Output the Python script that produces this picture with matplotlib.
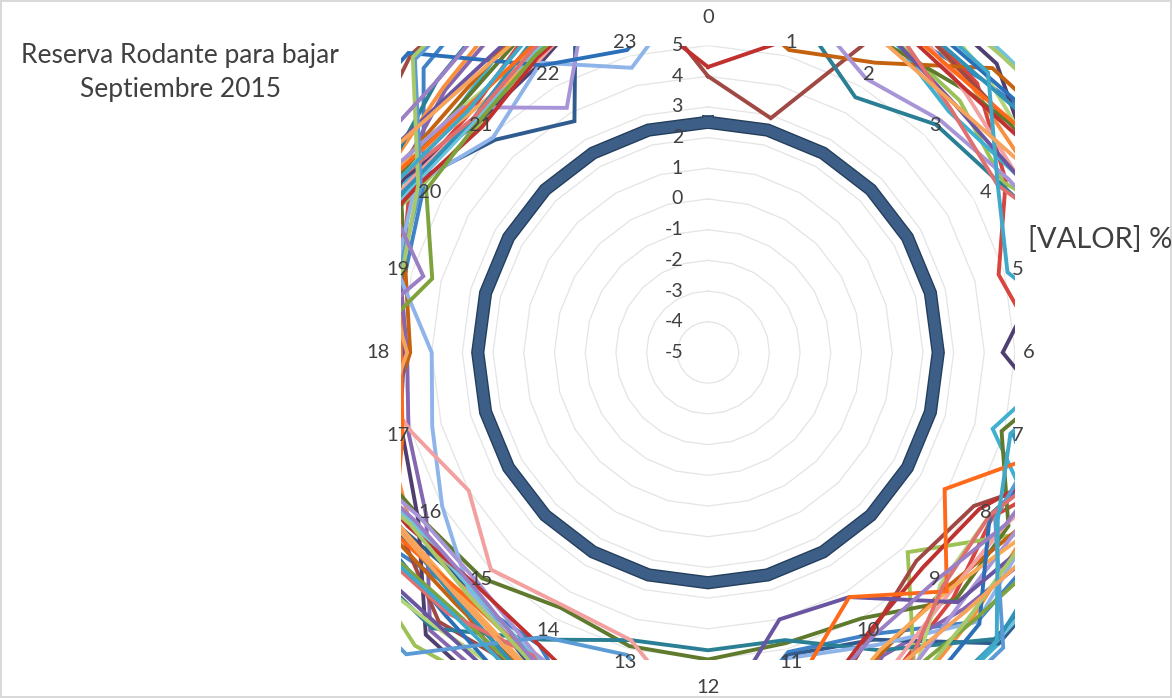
import numpy as np
import matplotlib.pyplot as plt
import matplotlib.patheffects as pe
from matplotlib.patches import Rectangle

# horas del dia (categorias del radar)
horas = list(range(24))
niveles = [-4, -3, -2, -1, 0, 1, 2, 3, 4, 5]
escala = [-5, -4, -3, -2, -1, 0, 1, 2, 3, 4, 5]
umbral = [2.5] * 24

# reserva rodante por dia (%) (lo que pasa de 5 queda fuera del recuadro)
dia_01 = [7.5, 9.0, 7.2, 7.6, 8.6, 9.4, 8.5, 9.0, 7.6, 7.4, 5.6, 5.1, 8.0, 8.4, 6.0, 6.2, 7.3, 7.5, 8.2, 5.2, 5.7, 8.1, 8.9, 9.8]
dia_02 = [7.0, 9.0, 7.9, 7.4, 6.2, 4.8, 5.9, 8.2, 5.7, 6.3, 7.1, 7.9, 8.5, 8.3, 7.5, 6.5, 6.6, 5.6, 5.0, 5.3, 6.2, 6.0, 6.9, 7.9]
dia_03 = [8.0, 8.3, 6.9, 6.6, 6.1, 8.6, 8.0, 8.0, 6.8, 4.2, 8.6, 8.5, 9.0, 9.5, 8.0, 8.5, 8.2, 10.0, 8.0, 7.1, 5.8, 5.5, 6.2, 6.9]
dia_04 = [6.9, 11.0, 10.5, 10.2, 10.6, 11.0, 8.5, 8.2, 7.6, 6.8, 6.4, 8.6, 8.8, 9.6, 8.0, 7.8, 5.6, 5.1, 4.8, 5.4, 6.6, 7.1, 7.8, 8.8]
dia_05 = [7.4, 7.9, 6.9, 6.1, 6.6, 8.0, 7.0, 4.6, 7.8, 8.4, 8.8, 10.1, 8.0, 11.0, 10.3, 9.8, 10.2, 11.0, 8.5, 8.2, 6.3, 6.4, 7.3, 8.0]
dia_06 = [6.7, 8.2, 7.9, 7.2, 7.0, 9.0, 8.0, 8.5, 6.9, 7.2, 8.0, 8.7, 8.5, 7.7, 6.6, 6.0, 6.2, 5.8, 4.9, 5.6, 7.0, 7.2, 8.0, 9.2]
dia_07 = [7.3, 11.0, 10.3, 9.9, 10.1, 11.0, 8.5, 10.1, 8.6, 8.4, 5.8, 5.2, 8.3, 7.6, 6.7, 5.9, 6.5, 7.6, 7.8, 7.2, 6.1, 4.8, 3.7, 11.5]
dia_08 = [4.0, 2.9, 7.8, 7.3, 7.6, 9.0, 8.2, 8.5, 5.0, 4.6, 5.6, 7.8, 8.4, 8.2, 7.0, 7.4, 6.6, 8.1, 8.0, 9.4, 8.0, 8.7, 9.0, 9.0]
dia_09 = [7.1, 8.8, 6.6, 7.0, 7.9, 8.5, 7.6, 4.9, 6.3, 6.4, 5.0, 4.8, 5.0, 4.9, 4.6, 5.4, 5.8, 6.8, 7.5, 5.2, 6.6, 6.4, 7.0, 8.2]
dia_10 = [7.5, 9.9, 8.6, 8.3, 7.2, 6.5, 4.6, 7.7, 9.6, 9.8, 10.0, 10.5, 8.8, 9.8, 8.3, 8.0, 5.9, 5.3, 8.0, 7.6, 6.4, 5.6, 5.9, 7.4]
dia_11 = [7.0, 6.4, 4.6, 5.5, 6.0, 7.4, 8.0, 9.7, 8.5, 8.2, 6.2, 4.7, 4.7, 4.7, 5.8, 7.7, 8.2, 9.2, 8.0, 8.6, 7.0, 7.5, 8.3, 9.2]
dia_12 = [7.2, 5.2, 5.9, 8.1, 8.7, 9.8, 8.0, 7.6, 6.6, 5.9, 6.3, 7.8, 8.2, 8.2, 7.0, 6.6, 6.9, 6.0, 4.7, 5.2, 6.8, 6.6, 7.2, 8.4]
dia_13 = [7.6, 10.5, 10.2, 10.1, 10.3, 10.8, 8.8, 9.0, 7.0, 7.4, 6.0, 5.3, 8.5, 7.6, 6.6, 6.0, 5.0, 4.3, 4.0, 5.5, 6.0, 4.9, 5.9, 4.6]
dia_14 = [7.0, 8.6, 7.8, 6.9, 6.6, 8.8, 8.0, 7.8, 6.2, 6.1, 6.9, 7.6, 7.5, 4.7, 4.5, 5.0, 4.0, 5.0, 6.5, 7.3, 6.2, 5.8, 6.0, 7.4]
dia_15 = [7.3, 9.3, 8.6, 7.8, 7.4, 9.6, 8.1, 7.0, 5.6, 5.7, 8.0, 7.5, 8.4, 9.3, 7.4, 7.6, 8.5, 9.0, 7.8, 7.8, 6.9, 6.3, 6.4, 8.0]
dia_16 = [7.4, 6.8, 5.3, 5.7, 6.3, 7.4, 8.5, 8.4, 6.6, 6.6, 7.5, 8.3, 8.0, 7.2, 6.3, 5.6, 5.8, 7.3, 8.0, 8.4, 6.9, 6.3, 4.2, 9.0]
dia_17 = [7.1, 10.3, 9.0, 8.7, 9.2, 10.4, 8.2, 9.9, 8.6, 8.3, 8.8, 10.0, 8.2, 7.5, 6.4, 5.9, 6.1, 7.6, 7.4, 7.0, 6.0, 5.7, 6.3, 7.3]
dia_18 = [7.0, 11.0, 10.0, 9.9, 10.4, 11.0, 8.5, 7.5, 6.9, 6.0, 6.2, 7.9, 8.0, 8.0, 6.8, 6.3, 6.5, 8.0, 7.0, 7.7, 6.8, 6.0, 6.1, 7.8]
dia_19 = [7.6, 9.6, 8.0, 7.8, 8.5, 9.4, 8.0, 7.0, 5.6, 7.5, 8.3, 9.8, 8.3, 8.8, 7.7, 7.1, 7.2, 8.9, 7.6, 10.4, 9.1, 8.8, 5.8, 5.2]
dia_20 = [4.3, 5.6, 7.3, 7.0, 7.6, 8.8, 8.0, 7.6, 5.2, 4.9, 5.5, 7.3, 8.0, 7.2, 6.0, 5.7, 6.3, 7.3, 7.5, 7.0, 5.9, 5.4, 6.1, 7.2]
dia_21 = [7.0, 11.0, 10.1, 10.0, 10.5, 11.0, 8.5, 8.9, 7.9, 7.3, 7.4, 8.9, 8.0, 8.6, 7.1, 6.8, 7.4, 8.4, 6.4, 4.3, 5.6, 5.6, 6.2, 7.2]
dia_22 = [7.2, 8.2, 6.9, 6.4, 6.6, 8.1, 8.2, 8.3, 7.2, 6.5, 4.2, 4.0, 7.5, 9.2, 7.8, 7.5, 8.1, 5.4, 4.9, 5.9, 7.4, 6.9, 7.2, 8.7]
dia_23 = [7.4, 9.2, 7.8, 7.6, 8.3, 9.3, 8.0, 5.3, 8.0, 8.3, 8.7, 10.0, 8.5, 8.0, 7.1, 6.5, 6.6, 8.2, 7.7, 7.4, 6.1, 5.8, 6.6, 7.6]
dia_24 = [7.1, 9.0, 7.4, 7.2, 7.9, 9.1, 8.0, 6.9, 3.9, 6.0, 4.2, 6.2, 8.0, 7.9, 6.5, 6.2, 6.8, 5.3, 5.0, 5.5, 6.7, 6.2, 6.5, 7.8]
dia_25 = [7.5, 11.0, 10.2, 9.8, 10.1, 11.0, 8.6, 6.2, 5.8, 8.6, 9.0, 10.2, 8.6, 5.2, 5.7, 8.9, 9.4, 10.6, 8.0, 5.4, 5.8, 8.5, 9.0, 10.1]
dia_26 = [7.2, 7.9, 7.2, 6.2, 5.9, 7.8, 7.5, 7.3, 5.6, 5.8, 7.5, 7.2, 7.8, 8.8, 6.4, 7.0, 7.6, 8.7, 7.6, 7.3, 6.5, 5.8, 6.4, 7.6]
dia_27 = [7.0, 10.3, 8.8, 8.6, 9.2, 10.1, 8.1, 8.6, 7.0, 7.1, 7.9, 8.4, 8.0, 7.6, 6.6, 6.1, 6.2, 7.8, 7.6, 5.3, 5.9, 8.6, 9.1, 10.0]
dia_28 = [7.3, 11.0, 10.3, 10.3, 10.5, 11.0, 8.3, 7.0, 6.2, 5.5, 5.7, 7.2, 8.2, 7.3, 6.5, 5.8, 6.0, 7.4, 7.2, 4.6, 7.8, 7.5, 8.2, 9.3]
dia_29 = [7.2, 9.6, 8.2, 7.9, 5.9, 5.1, 8.0, 5.2, 5.9, 8.3, 8.9, 10.1, 8.4, 8.5, 7.3, 6.9, 7.5, 8.6, 7.4, 7.6, 6.5, 6.1, 6.8, 7.7]
dia_30 = [7.1, 8.1, 6.6, 6.4, 7.0, 8.1, 7.8, 8.4, 7.5, 6.9, 7.0, 8.6, 8.3, 8.0, 6.9, 6.4, 6.6, 6.2, 4.8, 6.0, 7.4, 6.8, 7.0, 8.5]

dias = [dia_01, dia_02, dia_03, dia_04, dia_05, dia_06, dia_07, dia_08, dia_09, dia_10,
        dia_11, dia_12, dia_13, dia_14, dia_15, dia_16, dia_17, dia_18, dia_19, dia_20,
        dia_21, dia_22, dia_23, dia_24, dia_25, dia_26, dia_27, dia_28, dia_29, dia_30]

colores = ['#3f82c8', '#d8443e', '#9cc255', '#8566b0', '#3fb0d0', '#f7913f',
           '#2f5b8e', '#a04844', '#5f7a2c', '#4f3f70', '#2a7f95', '#c4620f',
           '#8fb4ea', '#f2a0a0', '#b5d57a', '#a895d8', '#6fc3dc', '#f9a858',
           '#2a6fb8', '#c0302e', '#7ea33c', '#6a55a0', '#2f93b8', '#ff6a1a',
           '#5b9bd5', '#e07070', '#a8c96a', '#9a7fc4', '#40a8c8', '#f7a35c']

plt.rcParams['font.family'] = ['Lato', 'DejaVu Sans']

fig = plt.figure(figsize=(11.72, 6.98), dpi=100)
fig.patch.set_edgecolor('#d9d9d9')
fig.patch.set_linewidth(1.5)

ax = fig.add_axes([401 / 1172, 38.5 / 698, 614 / 1172, 614 / 698], projection='polar')
ax.set_theta_zero_location('N')
ax.set_theta_direction(-1)
ax.set_ylim(-5, 5)
ax.grid(False)
ax.spines['polar'].set_visible(False)
ax.set_xticks([])
ax.set_yticks([])
ax.patch.set_alpha(0)

theta = np.deg2rad(np.array(horas + horas[:1]) * 15)
caja = Rectangle((0, 0), 1, 1, transform=ax.transAxes)

# telaraña de la escala
for n in niveles:
    ax.plot(theta, [n] * len(theta), color='#e4e4e4', lw=0.9, zorder=1)

# lineas diarias (se salen de la escala y se recortan al recuadro)
for vals, c in zip(dias, colores):
    ln, = ax.plot(theta, vals + vals[:1], color=c, lw=2.8, zorder=3,
                  solid_joinstyle='miter')
    ln.set_clip_path(caja)

ax.plot(theta, umbral + umbral[:1], color='#3d5f87', lw=7.5, zorder=5,
        solid_joinstyle='miter',
        path_effects=[pe.Stroke(linewidth=9.5, foreground='#243e5c'), pe.Normal()])

# etiquetas
for v in escala:
    ax.annotate(str(v), xy=(0, v), xytext=(-18, 0), textcoords='offset points',
                ha='right', va='center', fontsize=14, color='#404040', zorder=6)

for h in horas:
    rr = 5.9 if h in (0, 12) else (5.75 if h == 18 else 5.45)
    ax.text(np.deg2rad(h * 15), rr, str(h), ha='center', va='center',
            fontsize=14.5, color='#404040', zorder=6)

fig.text(180 / 1172, 1 - 55 / 698, 'Reserva Rodante para bajar', ha='center', va='center',
         fontsize=19, color='#404040')
fig.text(180 / 1172, 1 - 90 / 698, 'Septiembre 2015', ha='center', va='center',
         fontsize=19, color='#404040')
fig.text(1100 / 1172, 1 - 240 / 698, '[VALOR] %', ha='center', va='center',
         fontsize=21, color='#404040')

fig.savefig('out.png', dpi=100)
